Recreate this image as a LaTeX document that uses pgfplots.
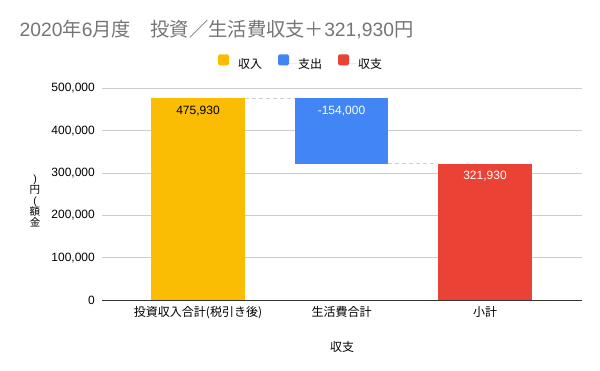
\documentclass[border=0pt]{standalone}
\usepackage{fontspec}
\setmainfont{Liberation Sans}
\newfontfamily\cjk{Noto Sans CJK JP}
\usepackage{pgfplots}
\pgfplotsset{compat=1.18}
\definecolor{cyellow}{HTML}{FBBC04}
\definecolor{cblue}{HTML}{4285F4}
\definecolor{cred}{HTML}{EA4335}
\definecolor{ctitle}{HTML}{757575}
\definecolor{cgrid}{HTML}{CCCCCC}
\definecolor{caxis}{HTML}{333333}
\definecolor{cdash}{HTML}{D0D0D0}
\newcommand\fs[1]{\fontsize{#1bp}{#1bp}\selectfont}
\pgfplotsset{
  sq/.style={legend image code/.code={
     \path (0bp,0bp) -- (20bp,0bp);
     \fill[#1,rounded corners=1.5bp] (0bp,-1.5bp) rectangle (11bp,9.5bp);}},
}
\begin{document}
\begin{tikzpicture}
\path[use as bounding box] (0,0) rectangle (600bp,371bp);
\node[anchor=base west, inner sep=0pt, text=ctitle, font=\fs{19.3}] at (19.5bp,334bp)
  {2020{\cjk 年}6{\cjk 月度　投資／生活費収支＋}321,930{\cjk 円}};
\begin{axis}[
  at={(102bp,71bp)}, anchor=south west,
  scale only axis, width=480bp, height=211.7bp,
  xmin=-0.669, xmax=2.676, ymin=0, ymax=500000,
  xtick={0,1,2},
  xticklabels={投資収入合計(税引き後), 生活費合計, 小計},
  xticklabel style={font=\cjk\fs{12}, inner sep=0pt, yshift=-6bp},
  ytick={0,100000,200000,300000,400000,500000},
  scaled y ticks=false,
  yticklabel style={font=\fs{12}, inner sep=0pt, xshift=-7bp,
    /pgf/number format/fixed,
    /pgf/number format/assume math mode=true,
    /pgf/number format/1000 sep={,}},
  major tick length=0pt,
  axis x line*=bottom, axis y line*=left,
  x axis line style={draw=caxis, line width=0.8bp, -},
  y axis line style={draw=none},
  ymajorgrids, grid style={draw=cgrid, line width=0.8bp},
  xlabel={\cjk 収支},
  every axis x label/.style={at={(axis description cs:0.5,0)}, anchor=center, yshift=-47bp, font=\fs{12}},
  ylabel={)\\{\cjk 円}\\(\\{\cjk 額}\\{\cjk 金}},
  every axis y label/.style={at={(axis description cs:0,0.468)}, anchor=center, xshift=-67bp, align=center, font=\fontsize{10.5bp}{11bp}\selectfont},
  legend style={at={(0.4125,1.124)}, anchor=center, draw=none, fill=none,
     legend columns=3, inner sep=0pt, font=\cjk\fs{12},
     nodes={inner sep=0pt},
     /tikz/every even column/.append style={column sep=16bp}},
  legend cell align=left,
]
\addplot[ybar, bar width=0.655, bar shift=0pt, fill=cyellow, draw=none, sq=cyellow]
  coordinates {(0,475930)};
\addlegendentry{収入}
\addplot[fill=cblue, draw=none, sq=cblue]
  coordinates {(0.6725,321930) (1.3275,321930) (1.3275,475930) (0.6725,475930)} -- cycle;
\addlegendentry{支出}
\addplot[ybar, bar width=0.655, bar shift=0pt, fill=cred, draw=none, sq=cred]
  coordinates {(2,321930)};
\addlegendentry{収支}
\addplot[cdash, line width=0.8bp, dash pattern=on 4bp off 3bp, forget plot]
  coordinates {(0.3275,475930) (0.6725,475930)};
\addplot[cdash, line width=0.8bp, dash pattern=on 4bp off 3bp, forget plot]
  coordinates {(1.3275,321930) (1.6725,321930)};
\node[anchor=base, font=\fs{12}, text=black, yshift=-16bp] at (axis cs:0,475930) {475,930};
\node[anchor=base, font=\fs{12}, text=white, yshift=-16bp] at (axis cs:1,475930) {-154,000};
\node[anchor=base, font=\fs{12}, text=white, yshift=-16bp] at (axis cs:2,321930) {321,930};
\end{axis}
\end{tikzpicture}
\end{document}
